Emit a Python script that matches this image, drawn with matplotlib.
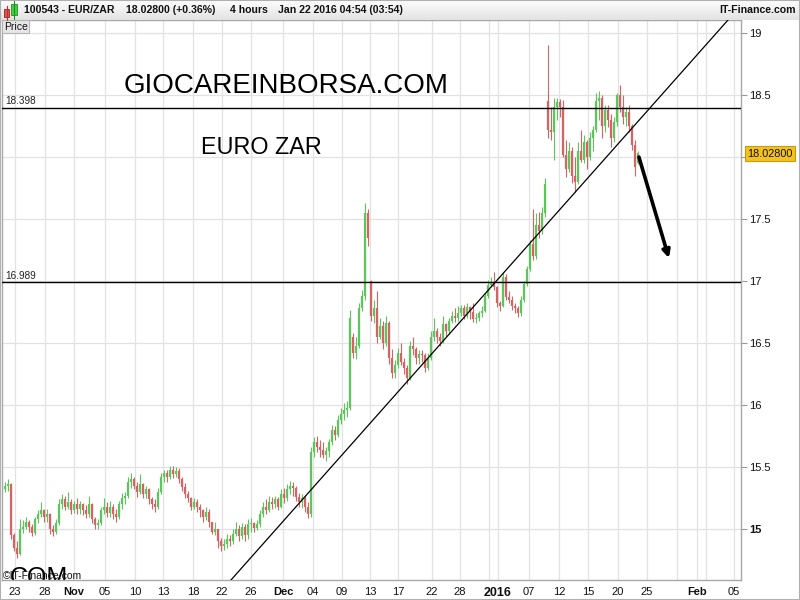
import matplotlib
matplotlib.use("Agg")
import matplotlib.pyplot as plt
import numpy as np
from matplotlib.patches import Rectangle
from matplotlib.lines import Line2D

plt.rcParams['font.family'] = ['Liberation Sans', 'DejaVu Sans']

# ---------------- data (4-hour EUR/ZAR bars) ----------------
opens = [
    15.32, 15.35, 15.36, 14.95, 14.85, 14.80, 15.00, 15.02, 15.06, 15.02,
    14.97, 15.08, 15.12, 15.15, 15.10, 15.12, 15.00, 14.98, 15.05, 15.20,
    15.24, 15.18, 15.22, 15.15, 15.20, 15.16, 15.20, 15.15, 15.12, 15.20,
    15.08, 15.03, 15.05, 15.15, 15.18, 15.13, 15.18, 15.12, 15.10, 15.20,
    15.25, 15.27, 15.38, 15.40, 15.35, 15.30, 15.36, 15.28, 15.32, 15.24,
    15.20, 15.18, 15.30, 15.42, 15.45, 15.42, 15.48, 15.44, 15.47, 15.40,
    15.34, 15.28, 15.25, 15.18, 15.22, 15.18, 15.15, 15.10, 15.14, 15.06,
    14.98, 15.00, 14.90, 14.86, 14.88, 14.92, 14.90, 14.96, 15.00, 14.94,
    15.02, 14.95, 15.04, 15.05, 15.01, 15.04, 15.12, 15.18, 15.15, 15.22,
    15.20, 15.24, 15.18, 15.28, 15.25, 15.32, 15.35, 15.33, 15.26, 15.22,
    15.25, 15.18, 15.12, 15.62, 15.70, 15.66, 15.64, 15.60, 15.63, 15.70,
    15.80, 15.76, 15.88, 15.93, 15.96, 15.98, 16.55, 16.42, 16.48, 16.78,
    16.88, 17.55, 17.00, 16.72, 16.78, 16.55, 16.64, 16.50, 16.66, 16.38,
    16.26, 16.32, 16.42, 16.35, 16.30, 16.22, 16.48, 16.45, 16.38, 16.41,
    16.40, 16.30, 16.38, 16.55, 16.60, 16.55, 16.52, 16.65, 16.60, 16.68,
    16.72, 16.70, 16.74, 16.78, 16.72, 16.79, 16.75, 16.69, 16.70, 16.74,
    16.76, 16.88, 16.97, 16.99, 16.95, 16.82, 16.80, 17.03, 16.87, 16.85,
    16.80, 16.78, 16.74, 16.85, 16.98, 17.10, 17.30, 17.20, 17.45, 17.40,
    17.55, 18.45, 18.22, 18.20, 18.40, 18.44, 18.40, 18.02, 17.90, 18.05,
    17.85, 17.80, 18.05, 17.98, 18.12, 18.00, 18.15, 18.22, 18.45, 18.48,
    18.25, 18.38, 18.30, 18.15, 18.28, 18.50, 18.40, 18.32, 18.36, 18.25,
    18.10, 17.95,
]
highs = [
    15.38, 15.40, 15.37, 14.97, 14.90, 15.08, 15.07, 15.10, 15.07, 15.04,
    15.10, 15.15, 15.22, 15.16, 15.16, 15.13, 15.03, 15.08, 15.24, 15.28,
    15.27, 15.30, 15.24, 15.23, 15.25, 15.23, 15.21, 15.19, 15.27, 15.21,
    15.10, 15.08, 15.18, 15.25, 15.22, 15.23, 15.20, 15.16, 15.23, 15.29,
    15.30, 15.42, 15.45, 15.42, 15.38, 15.44, 15.37, 15.35, 15.33, 15.26,
    15.24, 15.33, 15.45, 15.48, 15.48, 15.51, 15.51, 15.50, 15.49, 15.42,
    15.37, 15.31, 15.26, 15.25, 15.24, 15.20, 15.16, 15.18, 15.16, 15.06,
    15.06, 15.00, 14.93, 14.92, 14.96, 14.95, 15.00, 15.06, 15.03, 15.05,
    15.04, 15.08, 15.09, 15.06, 15.07, 15.15, 15.22, 15.24, 15.27, 15.26,
    15.27, 15.26, 15.32, 15.33, 15.36, 15.39, 15.38, 15.35, 15.29, 15.28,
    15.27, 15.22, 15.66, 15.74, 15.75, 15.72, 15.70, 15.66, 15.73, 15.84,
    15.83, 15.92, 15.98, 16.02, 16.03, 16.77, 16.58, 16.55, 16.82, 16.93,
    17.63, 17.58, 17.01, 16.85, 16.92, 16.70, 16.68, 16.72, 16.68, 16.45,
    16.36, 16.46, 16.50, 16.38, 16.32, 16.52, 16.55, 16.47, 16.44, 16.44,
    16.42, 16.42, 16.60, 16.70, 16.62, 16.58, 16.72, 16.66, 16.70, 16.76,
    16.78, 16.80, 16.81, 16.81, 16.82, 16.80, 16.82, 16.74, 16.76, 16.80,
    16.90, 17.01, 17.03, 17.07, 16.96, 16.84, 17.07, 17.06, 16.92, 16.88,
    16.82, 16.80, 16.88, 17.00, 17.12, 17.33, 17.58, 17.55, 17.56, 17.60,
    17.83, 18.90, 18.40, 18.48, 18.48, 18.47, 18.46, 18.14, 18.12, 18.08,
    18.00, 18.12, 18.22, 18.18, 18.14, 18.20, 18.25, 18.52, 18.53, 18.50,
    18.42, 18.42, 18.35, 18.32, 18.52, 18.58, 18.50, 18.40, 18.42, 18.27,
    18.14, 18.05,
]
lows = [
    15.30, 15.31, 14.92, 14.82, 14.77, 14.79, 14.97, 15.00, 14.98, 14.94,
    14.95, 15.05, 15.10, 15.06, 15.06, 14.96, 14.94, 14.96, 15.03, 15.16,
    15.15, 15.16, 15.12, 15.13, 15.12, 15.12, 15.11, 15.09, 15.10, 15.05,
    15.00, 15.00, 15.03, 15.12, 15.10, 15.10, 15.08, 15.06, 15.08, 15.16,
    15.20, 15.25, 15.33, 15.32, 15.26, 15.28, 15.25, 15.25, 15.20, 15.16,
    15.14, 15.16, 15.28, 15.38, 15.38, 15.40, 15.41, 15.42, 15.37, 15.31,
    15.25, 15.22, 15.15, 15.16, 15.14, 15.10, 15.06, 15.07, 15.02, 14.96,
    14.95, 14.85, 14.82, 14.83, 14.85, 14.86, 14.88, 14.94, 14.90, 14.92,
    14.90, 14.92, 14.98, 14.98, 14.99, 15.02, 15.10, 15.12, 15.14, 15.16,
    15.17, 15.15, 15.17, 15.21, 15.23, 15.28, 15.27, 15.23, 15.18, 15.17,
    15.14, 15.09, 15.10, 15.58, 15.62, 15.58, 15.57, 15.55, 15.58, 15.68,
    15.72, 15.74, 15.85, 15.88, 15.90, 15.96, 16.38, 16.37, 16.46, 16.76,
    16.85, 17.28, 16.68, 16.66, 16.50, 16.53, 16.45, 16.48, 16.33, 16.22,
    16.22, 16.30, 16.32, 16.25, 16.17, 16.20, 16.40, 16.33, 16.33, 16.35,
    16.27, 16.28, 16.36, 16.52, 16.50, 16.48, 16.50, 16.56, 16.57, 16.66,
    16.67, 16.68, 16.72, 16.69, 16.70, 16.69, 16.67, 16.66, 16.68, 16.71,
    16.75, 16.86, 16.95, 16.93, 16.79, 16.76, 16.79, 16.85, 16.82, 16.77,
    16.74, 16.71, 16.72, 16.83, 16.96, 17.08, 17.17, 17.18, 17.35, 17.38,
    17.52, 18.15, 18.14, 17.98, 18.30, 18.32, 18.00, 17.84, 17.88, 17.79,
    17.72, 17.78, 17.96, 17.95, 17.90, 17.98, 18.05, 18.20, 18.30, 18.15,
    18.20, 18.24, 18.08, 18.12, 18.25, 18.36, 18.27, 18.25, 18.20, 18.06,
    17.85, 17.94,
]
closes = [
    15.35, 15.36, 14.95, 14.85, 14.80, 15.00, 15.02, 15.06, 15.02, 14.97,
    15.08, 15.12, 15.15, 15.10, 15.12, 15.00, 14.98, 15.05, 15.20, 15.24,
    15.18, 15.22, 15.15, 15.20, 15.16, 15.20, 15.15, 15.12, 15.20, 15.08,
    15.03, 15.05, 15.15, 15.18, 15.13, 15.18, 15.12, 15.10, 15.20, 15.25,
    15.27, 15.38, 15.40, 15.35, 15.30, 15.36, 15.28, 15.32, 15.24, 15.20,
    15.18, 15.30, 15.42, 15.45, 15.42, 15.48, 15.44, 15.47, 15.40, 15.34,
    15.28, 15.25, 15.18, 15.22, 15.18, 15.15, 15.10, 15.14, 15.06, 14.98,
    15.00, 14.90, 14.86, 14.88, 14.92, 14.90, 14.96, 15.00, 14.94, 15.02,
    14.95, 15.04, 15.05, 15.01, 15.04, 15.12, 15.18, 15.15, 15.22, 15.20,
    15.24, 15.18, 15.28, 15.25, 15.32, 15.35, 15.33, 15.26, 15.22, 15.25,
    15.18, 15.12, 15.62, 15.70, 15.66, 15.64, 15.60, 15.63, 15.70, 15.80,
    15.76, 15.88, 15.93, 15.96, 15.98, 16.70, 16.42, 16.48, 16.78, 16.88,
    17.55, 17.35, 16.72, 16.78, 16.55, 16.64, 16.50, 16.66, 16.38, 16.26,
    16.32, 16.42, 16.35, 16.30, 16.22, 16.48, 16.45, 16.38, 16.41, 16.40,
    16.30, 16.38, 16.55, 16.60, 16.55, 16.52, 16.65, 16.60, 16.68, 16.72,
    16.70, 16.74, 16.78, 16.72, 16.79, 16.75, 16.69, 16.70, 16.74, 16.76,
    16.88, 16.97, 16.99, 16.95, 16.82, 16.80, 17.03, 16.87, 16.85, 16.80,
    16.78, 16.74, 16.85, 16.98, 17.10, 17.30, 17.20, 17.45, 17.40, 17.55,
    17.78, 18.22, 18.20, 18.40, 18.44, 18.40, 18.02, 17.90, 18.05, 17.85,
    17.80, 18.05, 17.98, 18.12, 18.00, 18.15, 18.22, 18.45, 18.48, 18.25,
    18.38, 18.30, 18.15, 18.28, 18.50, 18.40, 18.32, 18.36, 18.25, 18.10,
    17.92, 18.03,
]

# x-axis date labels (positions in bar units)
tick_pos = [3.33, 13.33, 23.0, 33.33, 43.33, 52.67, 62.67, 72.33, 82.0, 92.67,
            102.67, 112.33, 121.67, 131.0, 142.33, 151.67, 164.33, 174.67,
            184.67, 194.33, 204.33, 214.0, 230.67, 243.0]
tick_labels = ["23", "28", "Nov", "05", "10", "13", "18", "22", "26", "Dec",
               "04", "09", "13", "17", "22", "28", "2016", "07",
               "12", "15", "20", "25", "Feb", "05"]
bold_labels = ["Nov", "Dec", "2016", "Feb"]
extra_grid = [161.33, 224.0, 233.67]

y_ticks = [15, 15.5, 16, 16.5, 17, 17.5, 18, 18.5, 19]
y_labels = ["15", "15.5", "16", "16.5", "17", "17.5", "", "18.5", "19"]

level_hi = 18.398
level_lo = 16.989
last_price = 18.028
trend_a = (75.33, 14.589)
trend_b = (241.0, 19.105)
arrow_from = (211.3, 18.0)
arrow_to = (221.3, 17.185)

# ---------------- figure ----------------
W, H = 800, 600
fig = plt.figure(figsize=(8, 6), dpi=100)
fig.patch.set_facecolor("white")

ax = fig.add_axes([2 / W, 20 / H, 739 / W, 560 / H])
ax.set_xlim(-1, 245.33)
ax.set_ylim(14.589, 19.105)

grid_c = "#e2e2e2"
for yv in y_ticks:
    ax.axhline(yv, color=grid_c, lw=0.9, zorder=0)
for xv in tick_pos + extra_grid:
    ax.axvline(xv, color=grid_c, lw=0.9, zorder=0)

o = np.array(opens); h = np.array(highs); l = np.array(lows); c = np.array(closes)
x = np.arange(len(o))
green, red = "#5cc65c", "#d46464"
cols = np.where(c >= o, green, red)
ax.vlines(x, l, h, colors=cols, lw=0.8, zorder=2)
ax.vlines(x, np.minimum(o, c), np.maximum(o, c), colors=cols, lw=1.6, zorder=2)

# horizontal levels
for lv, txt in [(level_hi, "18.398"), (level_lo, "16.989")]:
    ax.axhline(lv, color="black", lw=1.0, zorder=3)
    ax.text(0.004, lv + 0.012, txt, transform=ax.get_yaxis_transform(),
            fontsize=7.2, color="#222222", va="bottom", ha="left")

# trend line
ax.axline(trend_a, trend_b, color="black", lw=0.9, zorder=3)

# arrow
ax.annotate("", xy=arrow_to, xytext=arrow_from,
            arrowprops=dict(arrowstyle="-|>", color="black", lw=2.6,
                            mutation_scale=11, shrinkA=0, shrinkB=0), zorder=4)

# axes styling
for s in ["left", "right", "bottom", "top"]:
    ax.spines[s].set_color("#a8a8a8")
    ax.spines[s].set_linewidth(1.0)
ax.yaxis.tick_right()
ax.set_yticks(y_ticks)
ax.set_yticklabels(y_labels)
ax.tick_params(axis="y", direction="out", length=4, width=0.8, color="#999999",
               labelsize=8, pad=2, labelcolor="#111111")
for t in ax.get_yticklabels():
    if t.get_text() == "15":
        t.set_fontweight("bold")
ax.set_xticks(tick_pos)
ax.set_xticklabels(tick_labels)
ax.tick_params(axis="x", length=0, labelsize=8, pad=5, labelcolor="#111111")
for t in ax.get_xticklabels():
    if t.get_text() in bold_labels:
        t.set_fontweight("bold")
        if t.get_text() == "2016":
            t.set_fontsize(9)

# last price tag
ax.text(1.0085, last_price, "18.02800", transform=ax.get_yaxis_transform(),
        va="center", ha="left", fontsize=7.8, color="#111111", clip_on=False,
        bbox=dict(boxstyle="square,pad=0.22", fc="#f4c21f", ec="#c69c10", lw=0.8))

# watermark texts
fig.text(124 / W, 1 - 93 / H, "GIOCAREINBORSA.COM", fontsize=20, color="black",
         ha="left", va="baseline")
fig.text(201 / W, 1 - 154 / H, "EURO ZAR", fontsize=16.8, color="black",
         ha="left", va="baseline")
ax.text(8 / 739, -0.009, "COM", transform=ax.transAxes, fontsize=18, color="black",
        ha="left", va="baseline", clip_on=True, zorder=1)
fig.text(3 / W, 1 - 579 / H, "©IT-Finance.com", fontsize=7.5, color="#111111",
         ha="left", va="baseline")

# header bar
hax = fig.add_axes([0, 1 - 20 / H, 1, 20 / H])
grad = np.linspace(0, 1, 20).reshape(-1, 1)
hax.imshow(grad, aspect="auto", cmap=matplotlib.colors.LinearSegmentedColormap.from_list(
    "hdr", ["#fdfdfd", "#e3e3e3"]), extent=[0, 1, 0, 1])
hax.set_xlim(0, 1); hax.set_ylim(0, 1)
hax.axis("off")
fig.text(24 / W, 1 - 10 / H, "100543 - EUR/ZAR", fontsize=7.6, fontweight="bold",
         va="center", ha="left", color="#111111")
fig.text(126 / W, 1 - 10 / H, "18.02800 (+0.36%)", fontsize=7.6, fontweight="bold",
         va="center", ha="left", color="#111111")
fig.text(230 / W, 1 - 10 / H, "4 hours", fontsize=7.6, fontweight="bold",
         va="center", ha="left", color="#111111")
fig.text(278 / W, 1 - 10 / H, "Jan 22 2016 04:54 (03:54)", fontsize=7.6, fontweight="bold",
         va="center", ha="left", color="#111111")
fig.text(796 / W, 1 - 10 / H, "IT-Finance.com", fontsize=7.6, fontweight="bold",
         va="center", ha="right", color="#111111")

# little candle icon
def fx(px): return px / W
def fy(py): return 1 - py / H
fig.add_artist(Line2D([fx(6.5), fx(6.5)], [fy(6), fy(20)], color="#c03030", lw=0.8))
fig.add_artist(Rectangle((fx(4), fy(17)), 5 / W, 8 / H, fc="#e05050", ec="#a02020", lw=0.6))
fig.add_artist(Line2D([fx(14), fx(14)], [fy(1), fy(19)], color="#209020", lw=0.8))
fig.add_artist(Rectangle((fx(11), fy(15)), 6 / W, 11 / H, fc="#40d040", ec="#209020", lw=0.6))

# "Price" label box
fig.add_artist(Rectangle((fx(2), fy(33)), 27 / W, 13 / H, fc="#e6e6e6", ec="#b4b4b4", lw=0.8))
fig.text(fx(4), fy(27), "Price", fontsize=7.5, va="center", ha="left", color="#111111")

# outer border
fig.add_artist(Rectangle((0, 0), 1, 1, fill=False, ec="#b0b0b0", lw=1.5,
                         transform=fig.transFigure))

fig.savefig("out.png", dpi=100)
